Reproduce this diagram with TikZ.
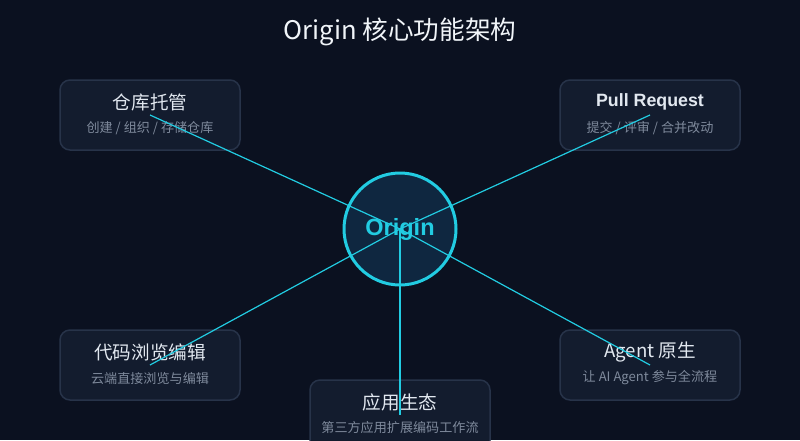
\documentclass[tikz,border=0pt]{standalone}
\usepackage{fontspec}
\setmainfont{Noto Sans CJK SC}
\newfontfamily\boldlat{Liberation Sans}[BoldFont={Liberation Sans Bold}]
\definecolor{bg}{HTML}{0B1120}
\definecolor{boxfill}{HTML}{131C2E}
\definecolor{boxline}{HTML}{273349}
\definecolor{cyanl}{HTML}{22CCE2}
\definecolor{circfill}{HTML}{0F2740}
\definecolor{titlecol}{HTML}{F1F5F9}
\definecolor{headcol}{HTML}{E2E8F0}
\definecolor{subcol}{HTML}{7F8A9C}
\begin{document}
\begin{tikzpicture}[x=1pt,y=-1pt,
  card/.style={draw=boxline,fill=boxfill,line width=1.5pt,rounded corners=10pt,minimum width=180pt,minimum height=70pt,inner sep=0pt},
  head/.style={text=headcol,font=\fontsize{18.6}{20}\selectfont,inner sep=0pt,anchor=center},
  sub/.style={text=subcol,font=\fontsize{13.1}{14}\selectfont,inner sep=0pt,anchor=center},
  spoke/.style={draw=cyanl,line width=1.2pt}]
\fill[bg] (0,0) rectangle (800,440);
\useasboundingbox (0,0) rectangle (800,440);
\node[text=titlecol,font=\fontsize{25.6}{28}\selectfont] (title) at (400,32) {Origin 核心功能架构};
% cards
\node[card] (c1) at (150,115) {};
\node[card] (c2) at (650,115) {};
\node[card] (c3) at (150,365) {};
\node[card] (c4) at (650,365) {};
\node[card] (c5) at (400,415) {};
\node[head] (h1) at (150,102) {仓库托管};
\node[sub] (s1) at (150,128) {创建 / 组织 / 存储仓库};
\node[head,font=\boldlat\bfseries\fontsize{17.8}{20}\selectfont] (h2) at (650,102) {Pull Request};
\node[sub] (s2) at (650,128) {提交 / 评审 / 合并改动};
\node[head] (h3) at (150,352) {代码浏览编辑};
\node[sub] (s3) at (150,378) {云端直接浏览与编辑};
\node[head] (h4) at (650,352) {Agent 原生};
\node[sub] (s4) at (650,378) {让 AI Agent 参与全流程};
\node[head] (h5) at (400,402) {应用生态};
\node[sub] (s5) at (400,428) {第三方应用扩展编码工作流};
% hub
\node[circle,fill=circfill,minimum size=112pt,inner sep=0pt] (hubfill) at (400,229) {};
\coordinate (hub) at (400,229);
\coordinate (e1) at (150,115);
\coordinate (e2) at (650,115);
\coordinate (e3) at (150,365);
\coordinate (e4) at (650,365);
\coordinate (e5) at (400,415);
\foreach \e in {e1,e2,e3,e4,e5} \draw[spoke] (hub) -- (\e);
\node[circle,draw=cyanl,line width=3pt,minimum size=112pt,inner sep=0pt] (hubring) at (400,229) {};
\node[text=cyanl,font=\boldlat\bfseries\fontsize{23.5}{26}\selectfont,inner sep=0pt] (hubtxt) at (400,229) {Origin};
\end{tikzpicture}
\end{document}
